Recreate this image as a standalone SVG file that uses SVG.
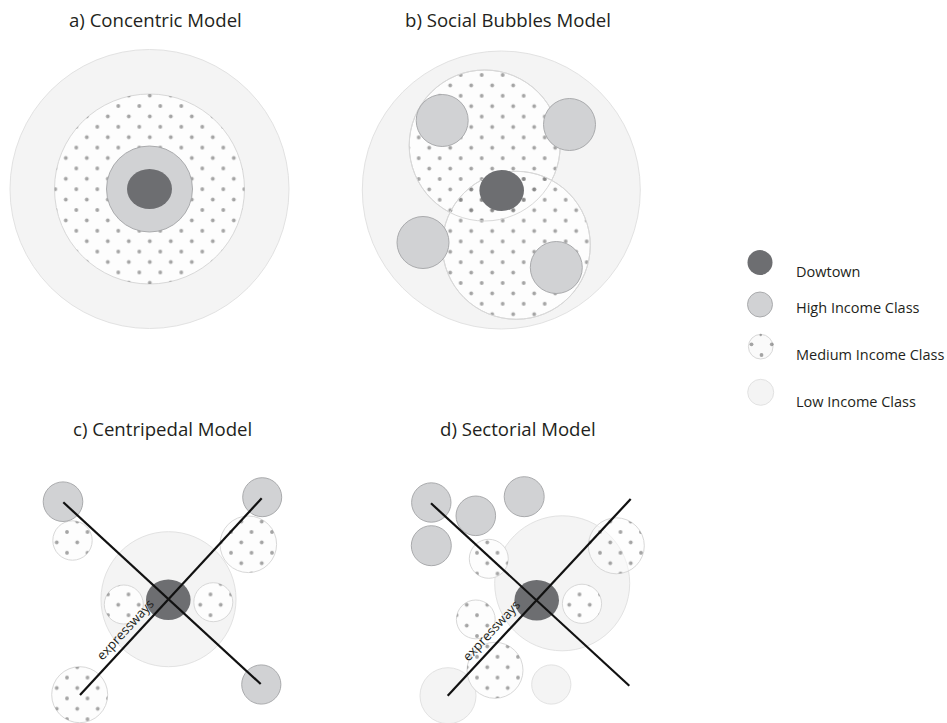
<svg xmlns="http://www.w3.org/2000/svg" width="947" height="723" viewBox="0 0 947 723">
<defs>
<style>
.title{font-family:"Open Sans","Liberation Sans",sans-serif;font-size:18.6px;fill:#231f20}
.leg{font-family:"Open Sans","Liberation Sans",sans-serif;font-size:14.5px;fill:#231f20}
.exp{font-family:"Open Sans","Liberation Sans",sans-serif;font-size:13px;fill:#231f20}
.low{fill:#f4f4f4;stroke:#e2e2e2;stroke-width:1}
.medbase{fill:#fdfdfd;stroke:#d8d8d8;stroke-width:1}
.medline{fill:none;stroke:#d8d8d8;stroke-width:1}
.high{fill:#d1d2d4;stroke:#a3a4a6;stroke-width:0.9}
.down{fill:#6d6e71}
.road{stroke:#111;stroke-width:2.2;fill:none;stroke-linecap:butt}
.dot{fill:#7a7a7a;fill-opacity:0.68}
</style>
<pattern id="dotsA" patternUnits="userSpaceOnUse" x="118.3" y="106" width="21" height="20.8">
<circle class="dot" cx="0" cy="0" r="1.9"/><circle class="dot" cx="21" cy="0" r="1.9"/><circle class="dot" cx="0" cy="20.8" r="1.9"/><circle class="dot" cx="21" cy="20.8" r="1.9"/><circle class="dot" cx="10.5" cy="10.4" r="1.9"/>
</pattern>
<pattern id="dotsB" patternUnits="userSpaceOnUse" x="481.7" y="75" width="21" height="20.8">
<circle class="dot" cx="0" cy="0" r="1.9"/><circle class="dot" cx="21" cy="0" r="1.9"/><circle class="dot" cx="0" cy="20.8" r="1.9"/><circle class="dot" cx="21" cy="20.8" r="1.9"/><circle class="dot" cx="10.5" cy="10.4" r="1.9"/>
</pattern>
<pattern id="dotsC" patternUnits="userSpaceOnUse" x="67" y="532" width="20.5" height="20.8">
<circle class="dot" cx="0" cy="0" r="1.9"/><circle class="dot" cx="20.5" cy="0" r="1.9"/><circle class="dot" cx="0" cy="20.8" r="1.9"/><circle class="dot" cx="20.5" cy="20.8" r="1.9"/><circle class="dot" cx="10.25" cy="10.4" r="1.9"/>
</pattern>
</defs>
<rect width="947" height="723" fill="#ffffff"/>

<g id="titles">
<text class="title" x="69" y="27">a) Concentric Model</text>
<text class="title" x="405" y="27">b) Social Bubbles Model</text>
<text class="title" x="73" y="436">c) Centripedal Model</text>
<text class="title" x="440" y="436">d) Sectorial Model</text>
</g>

<g id="panel-a">
<g id="a-low"><circle class="low" cx="149.5" cy="189" r="139.5"/></g>
<g id="a-medium"><circle class="medbase" cx="149.5" cy="189" r="95"/><circle cx="149.5" cy="189" r="95" fill="url(#dotsA)"/></g>
<g id="a-high"><circle class="high" cx="149.5" cy="189" r="43"/></g>
<g id="a-downtown"><ellipse class="down" cx="149.5" cy="189" rx="22.5" ry="20"/></g>
</g>

<g id="panel-b">
<g id="b-low"><circle class="low" cx="501.3" cy="190" r="139"/></g>
<g id="b-medium-1"><circle class="medbase" cx="484.7" cy="145.5" r="75.5"/></g>
<g id="b-medium-2"><circle class="medbase" cx="516.3" cy="245.3" r="74"/></g>
<g id="b-medium-dots">
<circle cx="484.7" cy="145.5" r="75.5" fill="url(#dotsB)"/>
<circle cx="516.3" cy="245.3" r="74" fill="url(#dotsB)"/>
<circle class="medline" cx="484.7" cy="145.5" r="75.5"/>
<circle class="medline" cx="516.3" cy="245.3" r="74"/>
</g>
<g id="b-high-1"><circle class="high" cx="442.2" cy="120.5" r="26"/></g>
<g id="b-high-2"><circle class="high" cx="569.5" cy="124.5" r="26"/></g>
<g id="b-high-3"><circle class="high" cx="423" cy="242.5" r="26"/></g>
<g id="b-high-4"><circle class="high" cx="556.3" cy="267.5" r="26"/></g>
<g id="b-downtown"><ellipse class="down" cx="501.7" cy="190.5" rx="22.3" ry="20.5"/></g>
</g>

<g id="legend">
<g id="leg-downtown"><circle class="down" cx="760" cy="262.5" r="12.5"/><text class="leg" x="796" y="277">Dowtown</text></g>
<g id="leg-high"><circle class="high" cx="760" cy="304.5" r="12.5"/><text class="leg" x="796" y="313">High Income Class</text></g>
<g id="leg-medium"><circle cx="760.7" cy="346.7" r="12.3" fill="#fafafa" stroke="#d8d8d8" stroke-width="1"/>
<circle class="dot" cx="751.5" cy="344.3" r="1.9"/><circle class="dot" cx="771.8" cy="344.3" r="1.9"/><circle class="dot" cx="761.5" cy="355" r="1.9"/><circle class="dot" cx="760.7" cy="335" r="1.2"/>
<text class="leg" x="796" y="360">Medium Income Class</text></g>
<g id="leg-low"><circle class="low" cx="760.7" cy="392.3" r="13"/><text class="leg" x="796" y="407">Low Income Class</text></g>
</g>

<g id="panel-c">
<g id="c-low"><circle class="low" cx="168.5" cy="599.2" r="67.5"/></g>
<g id="c-med-1"><circle class="medbase" cx="72.5" cy="540.5" r="19.7"/><circle cx="72.5" cy="540.5" r="19.7" fill="url(#dotsC)"/></g>
<g id="c-med-2"><circle class="medbase" cx="248.3" cy="544.3" r="28.3"/><circle cx="248.3" cy="544.3" r="28.3" fill="url(#dotsC)"/></g>
<g id="c-med-3"><circle class="medbase" cx="123.8" cy="604.5" r="19.5"/><circle cx="123.8" cy="604.5" r="19.5" fill="url(#dotsC)"/></g>
<g id="c-med-4"><circle class="medbase" cx="213.3" cy="602.2" r="19.5"/><circle cx="213.3" cy="602.2" r="19.5" fill="url(#dotsC)"/></g>
<g id="c-med-5"><circle class="medbase" cx="79.7" cy="694.7" r="28"/><circle cx="79.7" cy="694.7" r="28" fill="url(#dotsC)"/></g>
<g id="c-high-1"><circle class="high" cx="63" cy="501.7" r="19.8"/></g>
<g id="c-high-2"><circle class="high" cx="262.2" cy="497.2" r="19.5"/></g>
<g id="c-high-3"><circle class="high" cx="261.3" cy="684.5" r="19.6"/></g>
<g id="c-downtown"><ellipse class="down" cx="168.3" cy="599.7" rx="22.3" ry="20.3"/></g>
</g>

<g id="panel-d">
<g id="d-low"><circle class="low" cx="562.2" cy="583.3" r="67.5"/></g>
<g id="d-low-2"><circle class="low" cx="448" cy="695.7" r="28"/></g>
<g id="d-low-3"><circle class="low" cx="551.3" cy="684.5" r="19.6"/></g>
<g id="d-med-1"><circle class="medbase" cx="488.8" cy="558.8" r="19.5"/><circle cx="488.8" cy="558.8" r="19.5" fill="url(#dotsC)"/></g>
<g id="d-med-2"><circle class="medbase" cx="616.3" cy="545.8" r="28" fill-opacity="0.5"/><circle cx="616.3" cy="545.8" r="28" fill="url(#dotsC)"/></g>
<g id="d-med-3"><circle class="medbase" cx="582" cy="603.8" r="19.6"/><circle cx="582" cy="603.8" r="19.6" fill="url(#dotsC)"/></g>
<g id="d-med-4"><circle class="medbase" cx="475.8" cy="619.4" r="19.4"/><circle cx="475.8" cy="619.4" r="19.4" fill="url(#dotsC)"/></g>
<g id="d-med-5"><circle class="medbase" cx="495" cy="670.3" r="28"/><circle cx="495" cy="670.3" r="28" fill="url(#dotsC)"/></g>
<g id="d-high-1"><circle class="high" cx="431.3" cy="502.5" r="19.7"/></g>
<g id="d-high-2"><circle class="high" cx="475.8" cy="515.8" r="19.8"/></g>
<g id="d-high-3"><circle class="high" cx="524.2" cy="496.7" r="20"/></g>
<g id="d-high-4"><circle class="high" cx="431.3" cy="545.7" r="20"/></g>
<g id="d-downtown"><ellipse class="down" cx="536.7" cy="600.3" rx="22.3" ry="20.3"/></g>
</g>

<g id="connectors">
<line class="road" x1="63.3" y1="502.3" x2="260.7" y2="684"/>
<line class="road" x1="80" y1="695" x2="261.7" y2="498.3"/>
<line class="road" x1="431" y1="503.3" x2="629.3" y2="685.7"/>
<line class="road" x1="447.7" y1="695.7" x2="630.7" y2="499"/>
<text class="exp" transform="translate(102.5,661) rotate(-47.3)">expressways</text>
<text class="exp" transform="translate(468.5,662) rotate(-47.1)">expressways</text>
</g>
</svg>
